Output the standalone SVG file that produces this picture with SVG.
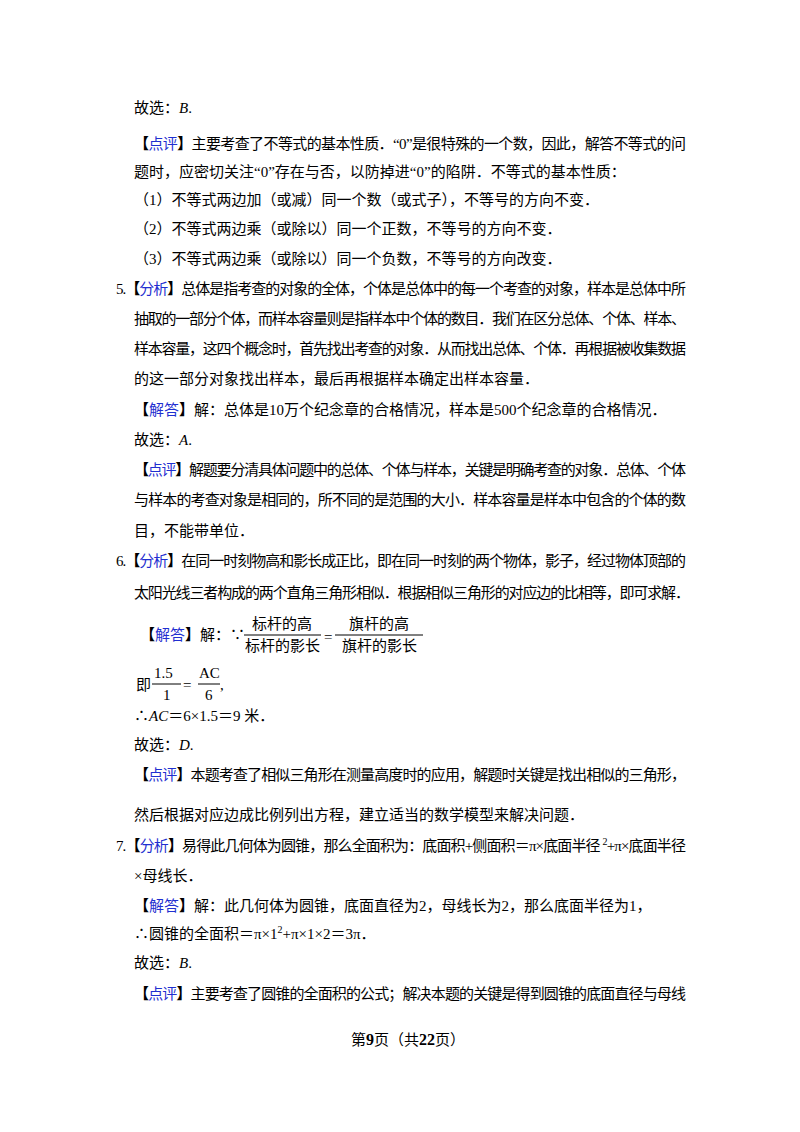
<svg xmlns="http://www.w3.org/2000/svg" width="800" height="1132" viewBox="0 0 800 1132">
<style>
text{font-family:"Liberation Serif","Noto Sans CJK SC",serif;font-size:15px;fill:#000}
.b{fill:#1f2fd0}
.k{font-weight:bold}
.i{font-style:italic}
.f{font-size:15px}
</style>
<rect width="800" height="1132" fill="#fff"/>
<text x="134" y="113">故选：<tspan class="i">B</tspan>.</text>
<text x="134" y="149" textLength="552" lengthAdjust="spacing"><tspan class="k">【</tspan><tspan class="b">点评</tspan><tspan class="k">】</tspan>主要考查了不等式的基本性质．“0”是很特殊的一个数，因此，解答不等式的问</text>
<text x="134" y="177">题时，应密切关注“0”存在与否，以防掉进“0”的陷阱．不等式的基本性质：</text>
<text x="134" y="205">（1）不等式两边加（或减）同一个数（或式子），不等号的方向不变．</text>
<text x="134" y="234">（2）不等式两边乘（或除以）同一个正数，不等号的方向不变．</text>
<text x="134" y="264">（3）不等式两边乘（或除以）同一个负数，不等号的方向改变．</text>
<text x="116" y="294" textLength="570" lengthAdjust="spacing">5.<tspan class="k">【</tspan><tspan class="b">分析</tspan><tspan class="k">】</tspan>总体是指考查的对象的全体，个体是总体中的每一个考查的对象，样本是总体中所</text>
<text x="134" y="324" textLength="552" lengthAdjust="spacing">抽取的一部分个体，而样本容量则是指样本中个体的数目．我们在区分总体、个体、样本、</text>
<text x="134" y="354" textLength="552" lengthAdjust="spacing">样本容量，这四个概念时，首先找出考查的对象．从而找出总体、个体．再根据被收集数据</text>
<text x="134" y="384">的这一部分对象找出样本，最后再根据样本确定出样本容量．</text>
<text x="134" y="415"><tspan class="k">【</tspan><tspan class="b">解答</tspan><tspan class="k">】</tspan>解：总体是10万个纪念章的合格情况，样本是500个纪念章的合格情况．</text>
<text x="134" y="445">故选：<tspan class="i">A</tspan>.</text>
<text x="134" y="475" textLength="552" lengthAdjust="spacing"><tspan class="k">【</tspan><tspan class="b">点评</tspan><tspan class="k">】</tspan>解题要分清具体问题中的总体、个体与样本，关键是明确考查的对象．总体、个体</text>
<text x="134" y="505" textLength="552" lengthAdjust="spacing">与样本的考查对象是相同的，所不同的是范围的大小．样本容量是样本中包含的个体的数</text>
<text x="134" y="536">目，不能带单位．</text>
<text x="116" y="566" textLength="570" lengthAdjust="spacing">6.<tspan class="k">【</tspan><tspan class="b">分析</tspan><tspan class="k">】</tspan>在同一时刻物高和影长成正比，即在同一时刻的两个物体，影子，经过物体顶部的</text>
<text x="134" y="598" textLength="556" lengthAdjust="spacing">太阳光线三者构成的两个直角三角形相似．根据相似三角形的对应边的比相等，即可求解．</text>
<text x="140" y="640"><tspan class="k">【</tspan><tspan class="b">解答</tspan><tspan class="k">】</tspan>解：∵</text>
<text class="f" x="252" y="629">标杆的高</text>
<line x1="244" y1="635" x2="321" y2="635" stroke="#000" stroke-width="1"/>
<text class="f" x="245" y="651">标杆的影长</text>
<text x="324" y="642">=</text>
<text class="f" x="349" y="629">旗杆的高</text>
<line x1="335" y1="635" x2="423" y2="635" stroke="#000" stroke-width="1"/>
<text class="f" x="342" y="651">旗杆的影长</text>
<text x="136" y="690">即</text>
<text x="154" y="678" font-family="Liberation Mono">1.5</text>
<line x1="152" y1="684" x2="181" y2="684" stroke="#000"/>
<text x="163" y="700">1</text>
<text x="183" y="690">=</text>
<text x="199" y="678" font-size="13">AC</text>
<line x1="198" y1="684" x2="220" y2="684" stroke="#000"/>
<text x="205" y="700" font-size="13">6</text>
<text x="220" y="690">,</text>
<text x="134" y="721">∴<tspan class="i">AC</tspan>＝6×1.5＝9 米．</text>
<text x="134" y="750">故选：<tspan class="i">D</tspan>.</text>
<text x="134" y="780" textLength="552" lengthAdjust="spacing"><tspan class="k">【</tspan><tspan class="b">点评</tspan><tspan class="k">】</tspan>本题考查了相似三角形在测量高度时的应用，解题时关键是找出相似的三角形，</text>
<text x="134" y="820">然后根据对应边成比例列出方程，建立适当的数学模型来解决问题．</text>
<text x="116" y="851" textLength="570" lengthAdjust="spacing">7.<tspan class="k">【</tspan><tspan class="b">分析</tspan><tspan class="k">】</tspan>易得此几何体为圆锥，那么全面积为：底面积+侧面积＝π×底面半径 <tspan dy="-6" font-size="10">2</tspan><tspan dy="6">+π×底面半径</tspan></text>
<text x="134" y="881">×母线长．</text>
<text x="134" y="911"><tspan class="k">【</tspan><tspan class="b">解答</tspan><tspan class="k">】</tspan>解：此几何体为圆锥，底面直径为2，母线长为2，那么底面半径为1，</text>
<text x="134" y="939">∴圆锥的全面积＝π×1<tspan dy="-6" font-size="10">2</tspan><tspan dy="6">+π×1×2＝3π．</tspan></text>
<text x="134" y="968">故选：<tspan class="i">B</tspan>.</text>
<text x="134" y="999" textLength="552" lengthAdjust="spacing"><tspan class="k">【</tspan><tspan class="b">点评</tspan><tspan class="k">】</tspan>主要考查了圆锥的全面积的公式；解决本题的关键是得到圆锥的底面直径与母线</text>
<text x="351" y="1045" font-size="14">第<tspan class="k" font-size="16">9</tspan>页（共<tspan class="k" font-size="16">22</tspan>页）</text>
</svg>
